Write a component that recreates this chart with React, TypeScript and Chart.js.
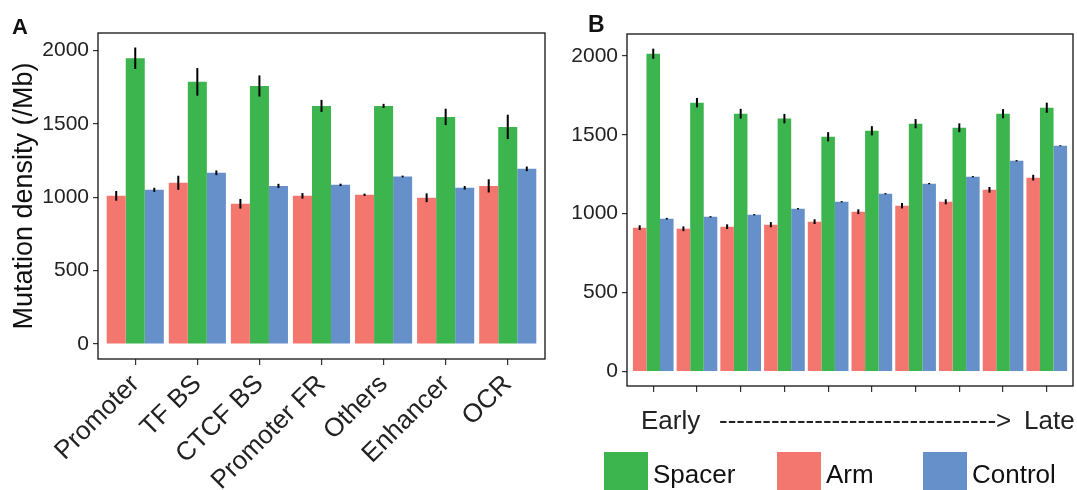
import React, { useEffect, useRef } from 'react';
import { Chart, registerables } from 'chart.js';

Chart.register(...registerables);

const FONT = '"Liberation Sans", Arial, Helvetica, sans-serif';

// ---------- Panel A data ----------
const categoriesA = ['Promoter', 'TF BS', 'CTCF BS', 'Promoter FR', 'Others', 'Enhancer', 'OCR'];
const armA = [1010, 1099, 956, 1010, 1017, 997, 1078];
const armErrA = [33, 48, 33, 19, 8, 30, 45];
const spacerA = [1948, 1787, 1759, 1623, 1623, 1548, 1480];
const spacerErrA = [73, 94, 72, 41, 14, 56, 83];
const controlA = [1051, 1167, 1078, 1085, 1142, 1065, 1194];
const controlErrA = [14, 16, 14, 8, 6, 12, 16];

// ---------- Panel B data (replication timing bins, early -> late) ----------
const binsB = ['1', '2', '3', '4', '5', '6', '7', '8', '9', '10'];
const armB = [911, 904, 917, 930, 949, 1012, 1050, 1075, 1151, 1228];
const armErrB = [15, 15, 15, 16, 15, 15, 17, 16, 18, 18];
const spacerB = [2013, 1703, 1633, 1602, 1487, 1525, 1570, 1544, 1633, 1671];
const spacerErrB = [32, 30, 31, 30, 29, 29, 29, 28, 29, 32];
const controlB = [968, 980, 993, 1031, 1075, 1126, 1190, 1234, 1335, 1430];
const controlErrB = [5, 4, 4, 4, 4, 4, 4, 4, 4, 3];

const yTicks = [0, 500, 1000, 1500, 2000];
const yTitle = 'Mutation density (/Mb)';
const legendOrder = ['Spacer', 'Arm', 'Control'];
const COLORS: Record<string, string> = { Arm: '#F3776F', Spacer: '#3DB54F', Control: '#6690CA' };

function makeDatasets(arm: number[], armErr: number[], spacer: number[], spacerErr: number[], control: number[], controlErr: number[], catPct: number) {
  const mk = (label: string, vals: number[], errs: number[]) => ({
    label,
    data: vals.map((v, i) => ({ x: i, y: v })),
    errors: errs,
    backgroundColor: COLORS[label],
    borderWidth: 0,
    categoryPercentage: catPct,
    barPercentage: 1,
  });
  return [mk('Arm', arm, armErr), mk('Spacer', spacer, spacerErr), mk('Control', control, controlErr)];
}

const errorBarPlugin = {
  id: 'errorBars',
  afterDatasetsDraw(chart: any) {
    const ctx = chart.ctx;
    const ys = chart.scales.y;
    chart.data.datasets.forEach((ds: any, di: number) => {
      const meta = chart.getDatasetMeta(di);
      meta.data.forEach((bar: any, i: number) => {
        const v = ds.data[i].y;
        const e = ds.errors[i];
        ctx.save();
        ctx.strokeStyle = '#000';
        ctx.lineWidth = 2;
        ctx.beginPath();
        ctx.moveTo(bar.x, ys.getPixelForValue(v + e));
        ctx.lineTo(bar.x, ys.getPixelForValue(v - e));
        ctx.stroke();
        ctx.restore();
      });
    });
  },
};

const framePlugin = {
  id: 'frame',
  afterDraw(chart: any) {
    const { ctx, chartArea: a } = chart;
    ctx.save();
    ctx.strokeStyle = '#111';
    ctx.lineWidth = 1.3;
    ctx.strokeRect(a.left, a.top, a.right - a.left, a.bottom - a.top);
    ctx.restore();
  },
};

function letterPlugin(letter: string, x: number, y: number, size: number) {
  return {
    id: 'letter' + letter,
    afterDraw(chart: any) {
      const ctx = chart.ctx;
      ctx.save();
      ctx.fillStyle = '#111';
      ctx.font = `bold ${size}px ${FONT}`;
      ctx.textAlign = 'left';
      ctx.textBaseline = 'alphabetic';
      ctx.fillText(letter, x, y);
      ctx.restore();
    },
  };
}

const timingTextPlugin = {
  id: 'timingText',
  afterDraw(chart: any) {
    const ctx = chart.ctx;
    ctx.save();
    ctx.fillStyle = '#222';
    ctx.font = `26px ${FONT}`;
    ctx.textBaseline = 'alphabetic';
    ctx.textAlign = 'left';
    ctx.fillText('Early', 81, 429);
    ctx.fillText('-'.repeat(32) + '>', 159, 429);
    ctx.fillText('Late', 464, 429);
    ctx.restore();
  },
};

const legendPlugin = {
  id: 'customLegend',
  afterDraw(chart: any) {
    const ctx = chart.ctx;
    const boxX = [44, 217, 363];
    ctx.save();
    ctx.font = `26px ${FONT}`;
    ctx.textBaseline = 'alphabetic';
    ctx.textAlign = 'left';
    legendOrder.forEach((name, i) => {
      const ds = chart.data.datasets.find((d: any) => d.label === name);
      ctx.fillStyle = ds.backgroundColor;
      ctx.fillRect(boxX[i], 452, 44, 40);
      ctx.fillStyle = '#111';
      ctx.fillText(name, boxX[i] + 49, 483);
    });
    ctx.restore();
  },
};

function makeConfig(opts: {
  labels: string[];
  datasets: any[];
  ymin: number;
  ymax: number;
  yWidth: number;
  xHeight: number;
  padding: any;
  rotated: boolean;
  showTitle: boolean;
  plugins: any[];
}) {
  const n = opts.labels.length;
  return {
    type: 'bar' as const,
    data: { datasets: opts.datasets },
    options: {
      animation: false,
      responsive: false,
      maintainAspectRatio: false,
      layout: { padding: opts.padding },
      plugins: { legend: { display: false }, tooltip: { enabled: false } },
      scales: {
        x: {
          type: 'linear',
          min: -0.6,
          max: n - 1 + 0.6,
          offset: false,
          afterBuildTicks: (axis: any) => {
            axis.ticks = opts.labels.map((_, i) => ({ value: i }));
          },
          afterFit: (s: any) => {
            s.height = opts.xHeight;
          },
          ticks: {
            autoSkip: false,
            maxRotation: opts.rotated ? 45 : 0,
            minRotation: opts.rotated ? 45 : 0,
            padding: 4,
            color: '#222',
            font: { family: FONT, size: 26 },
            callback: (v: any) => (opts.rotated ? opts.labels[Math.round(v)] : ''),
          },
          grid: { display: true, offset: false, drawOnChartArea: false, drawTicks: true, tickLength: 6, color: '#333', lineWidth: 1.2 },
          border: { display: false },
        },
        y: {
          type: 'linear',
          min: opts.ymin,
          max: opts.ymax,
          afterBuildTicks: (axis: any) => {
            axis.ticks = yTicks.map((v) => ({ value: v }));
          },
          afterFit: (s: any) => {
            s.width = opts.yWidth;
          },
          ticks: {
            padding: 4,
            color: '#222',
            font: { family: FONT, size: 21 },
            callback: (v: any) => String(v),
          },
          grid: { display: true, offset: false, drawOnChartArea: false, drawTicks: true, tickLength: 5, color: '#333', lineWidth: 1.2 },
          border: { display: false },
          title: {
            display: opts.showTitle,
            text: yTitle,
            color: '#111',
            font: { family: FONT, size: 27 },
            padding: { top: 8, bottom: 0 },
          },
        },
      },
    },
    plugins: [errorBarPlugin, framePlugin, ...opts.plugins],
  };
}

function Panel({ left, width, build }: { left: number; width: number; build: () => any }) {
  const ref = useRef<HTMLCanvasElement>(null);
  useEffect(() => {
    const chart = new Chart(ref.current as HTMLCanvasElement, build());
    return () => chart.destroy();
  }, []);
  return (
    <canvas
      ref={ref}
      width={width}
      height={490}
      style={{ position: 'absolute', left, top: 0, width, height: 490 }}
    />
  );
}

export default function App() {
  const buildA = () =>
    makeConfig({
      labels: categoriesA,
      datasets: makeDatasets(armA, armErrA, spacerA, spacerErrA, controlA, controlErrA, 0.92),
      ymin: -102,
      ymax: 2120,
      yWidth: 98,
      xHeight: 131,
      padding: { left: 0, right: 10, top: 33, bottom: 0 },
      rotated: true,
      showTitle: true,
      plugins: [letterPlugin('A', 12, 34, 22)],
    });
  const buildB = () =>
    makeConfig({
      labels: binsB,
      datasets: makeDatasets(armB, armErrB, spacerB, spacerErrB, controlB, controlErrB, 0.93),
      ymin: -92,
      ymax: 2138,
      yWidth: 67,
      xHeight: 104,
      padding: { left: 0, right: 4, top: 34, bottom: 0 },
      rotated: false,
      showTitle: false,
      plugins: [letterPlugin('B', 28, 32, 23), timingTextPlugin, legendPlugin],
    });
  return (
    <div style={{ position: 'absolute', left: 0, top: 0, width: 1077, height: 490, background: '#fff', overflow: 'hidden' }}>
      <Panel left={0} width={555} build={buildA} />
      <Panel left={560} width={517} build={buildB} />
    </div>
  );
}
